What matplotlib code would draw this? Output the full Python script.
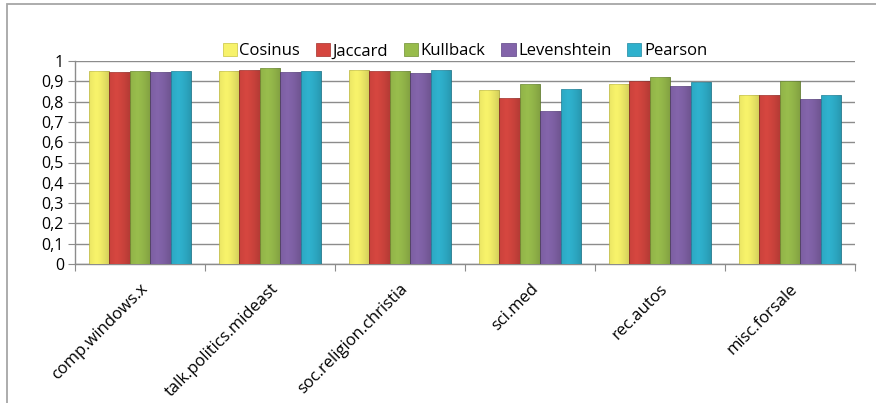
import matplotlib.pyplot as plt
import numpy as np
from matplotlib.ticker import FuncFormatter

categories = ['comp.windows.x', 'talk.politics.mideast', 'soc.religion.christia',
              'sci.med', 'rec.autos', 'misc.forsale']
series = ['Cosinus', 'Jaccard', 'Kullback', 'Levenshtein', 'Pearson']
cosinus = [0.949, 0.951, 0.954, 0.859, 0.888, 0.832]
jaccard = [0.944, 0.954, 0.949, 0.819, 0.900, 0.834]
kullback = [0.952, 0.964, 0.949, 0.888, 0.923, 0.903]
levenshtein = [0.944, 0.944, 0.939, 0.752, 0.878, 0.814]
pearson = [0.949, 0.949, 0.954, 0.863, 0.895, 0.834]
values = [cosinus, jaccard, kullback, levenshtein, pearson]

colors = ['#f7f26a', '#d5463f', '#98bc4c', '#8364aa', '#2fb1cd']
dark = ['#c9c43f', '#a3302b', '#6f8f32', '#5e4585', '#1f879f']

plt.rcParams['font.family'] = ['Open Sans', 'DejaVu Sans']
fig = plt.figure(figsize=(8.76, 4.03), dpi=100)
ax = fig.add_axes([75 / 876, 1 - 264 / 403, 780 / 876, 203 / 403])

# outer chart frame
fig.patches.append(plt.Rectangle((7 / 876, -0.05), 1.1, 1 - 4 / 403 + 0.05,
                                 transform=fig.transFigure, fill=False,
                                 edgecolor='#a6a6a6', linewidth=1.3))

x = np.arange(len(categories))
w = 0.157
for i, (name, vals) in enumerate(zip(series, values)):
    bars = ax.bar(x + (i - 2) * w, vals, w, color=colors[i], edgecolor=dark[i],
                  linewidth=0.5, label=name, zorder=3)
    # horizontal shading inside each bar
    grad = np.linspace(0, 1, 64)
    shade = 1 - 0.5 * np.abs(grad - 0.35) ** 1.5
    for b in bars:
        x0, y0 = b.get_x(), b.get_y()
        img = np.zeros((1, 64, 4))
        img[..., 3] = (1 - shade) * 0.6
        im = ax.imshow(img, extent=(x0, x0 + b.get_width(), y0, y0 + b.get_height()),
                       aspect='auto', zorder=4)
        im.set_clip_path(b)

ax.set_xlim(-0.5, len(categories) - 0.5)
ax.set_ylim(0, 1)
ax.set_yticks(np.arange(0, 1.01, 0.1))
ax.yaxis.set_major_formatter(FuncFormatter(lambda v, p: ('%g' % round(v, 1)).replace('.', ',')))
ax.grid(axis='y', color='#8c8c8c', linewidth=1.0, zorder=0)
ax.set_xticks(np.arange(-0.5, len(categories), 1.0), minor=False)
ax.set_xticklabels([])
ax.set_xticks(x, minor=True)
ax.set_xticklabels(categories, minor=True, rotation=45, ha='right',
                   rotation_mode='anchor', fontsize=12)
ax.tick_params(axis='x', which='minor', length=0, pad=12)
ax.tick_params(axis='x', which='major', length=5, color='#8c8c8c', direction='out')
ax.tick_params(axis='y', length=5, color='#8c8c8c', labelsize=11.5, pad=3)
for s in ['top', 'right']:
    ax.spines[s].set_visible(False)
for s in ['left', 'bottom']:
    ax.spines[s].set_color('#8c8c8c')
    ax.spines[s].set_linewidth(1.0)

leg = ax.legend(loc='lower center', bbox_to_anchor=(0.5, 0.975), ncol=5, frameon=False,
                fontsize=12, handlelength=0.85, handleheight=0.85, handletextpad=0.15,
                columnspacing=0.95, borderaxespad=0)

fig.savefig('out.png', dpi=100)
